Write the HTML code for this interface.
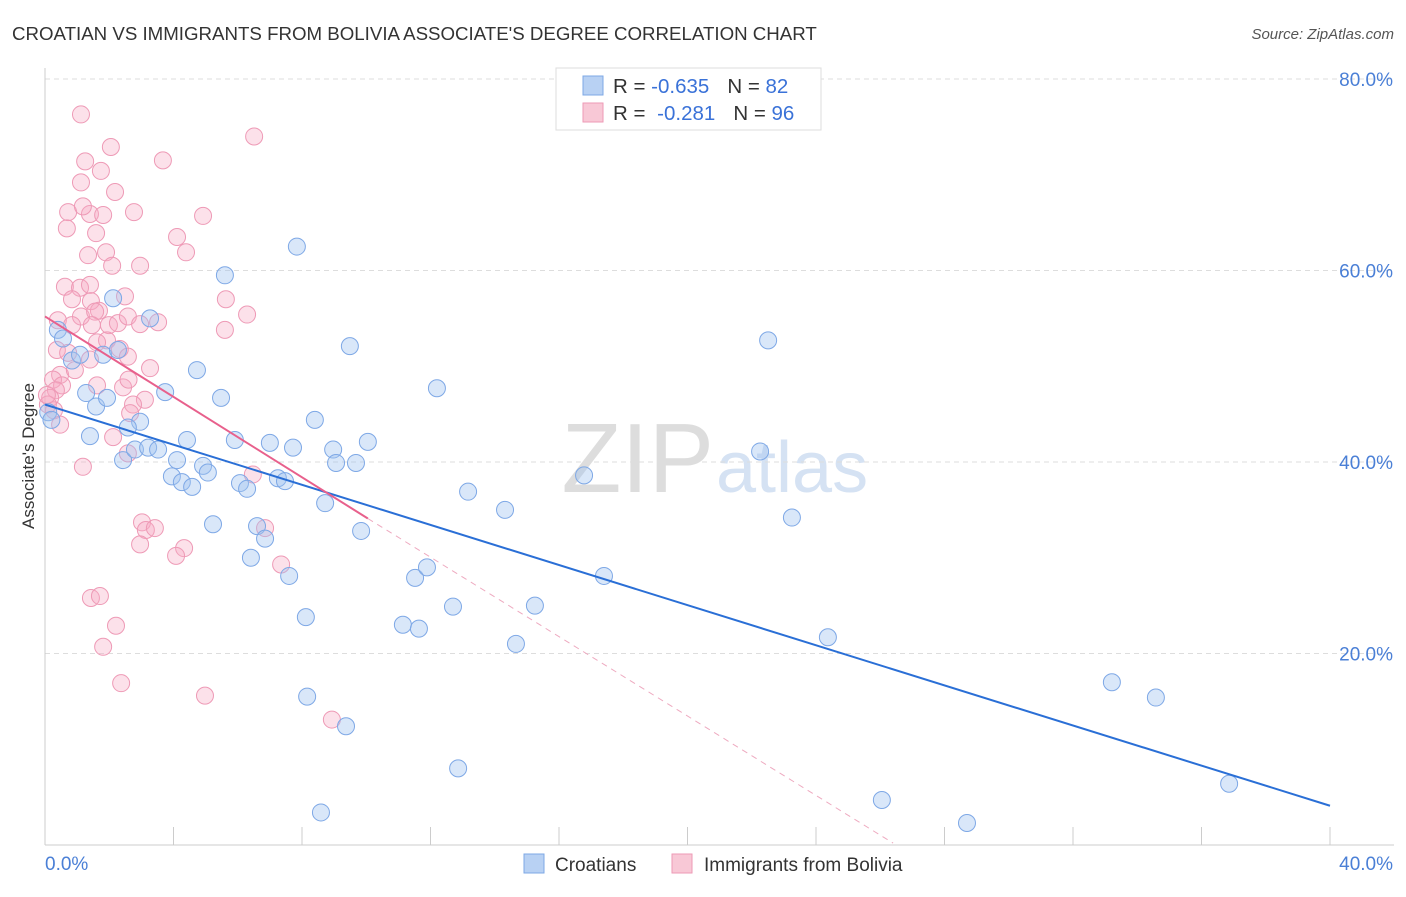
<!DOCTYPE html>
<html><head><meta charset="utf-8"><style>
body{margin:0;background:#fff;font-family:"Liberation Sans",sans-serif;}
svg text{font-family:"Liberation Sans",sans-serif;}
</style></head><body>
<svg id="chart" width="1406" height="892" xmlns="http://www.w3.org/2000/svg">
<text x="12" y="40" font-size="18.7" fill="#333">CROATIAN VS IMMIGRANTS FROM BOLIVIA ASSOCIATE'S DEGREE CORRELATION CHART</text>
<text x="1394" y="39" font-size="15" fill="#555" text-anchor="end" font-style="italic">Source: ZipAtlas.com</text>
<text x="714" y="492" font-size="98" text-anchor="end" fill="#ddd" font-family="Liberation Serif">ZIP</text>
<text x="716" y="492" font-size="72" fill="#d5e2f3">atlas</text>
<g id="grid"></g>
<g id="axes"></g>
<g id="marks"></g>
<g id="trends"></g>
<text transform="translate(34,456) rotate(-90)" font-size="17" fill="#333" text-anchor="middle">Associate's Degree</text>
<g>
<rect x="556" y="68" width="265" height="62" fill="#fff" stroke="#ddd"/>
<rect x="583" y="76" width="20" height="19" fill="#b8d1f3" stroke="#7ea8e6"/>
<text x="613" y="93" font-size="20.5" fill="#333">R = <tspan fill="#3a72d8">-0.635</tspan><tspan dx="18">N = </tspan><tspan fill="#3a72d8">82</tspan></text>
<rect x="583" y="103" width="20" height="19" fill="#f8c8d6" stroke="#ee9ab6"/>
<text x="613" y="120" font-size="20.5" fill="#333">R =  <tspan fill="#3a72d8" dx="6">-0.281</tspan><tspan dx="18">N = </tspan><tspan fill="#3a72d8">96</tspan></text>
</g>
<g>
<rect x="524" y="854" width="20" height="19" fill="#b8d1f3" stroke="#7ea8e6"/>
<text x="555" y="871" font-size="19" fill="#333">Croatians</text>
<rect x="672" y="854" width="20" height="19" fill="#f8c8d6" stroke="#ee9ab6"/>
<text x="704" y="871" font-size="19" fill="#333">Immigrants from Bolivia</text>
</g>
</svg>
<script>
const blueX=[0.4,0.56,0.84,1.09,1.81,2.12,3.27,2.27,1.28,1.59,1.93,2.96,2.58,1.40,2.43,2.80,3.21,3.52,3.74,4.73,3.95,4.11,4.26,4.58,4.42,4.92,5.07,5.23,5.48,5.60,5.91,6.07,6.29,6.60,6.85,6.41,7.00,7.25,7.47,7.72,7.60,7.84,8.12,8.16,8.40,8.72,8.97,9.06,9.49,9.68,9.84,10.05,9.37,8.59,11.52,11.89,11.14,11.64,12.20,12.70,12.86,13.17,14.32,14.66,15.25,16.78,17.40,22.26,22.51,23.25,24.37,26.05,28.70,33.21,34.58,36.86,0.1,0.2];
const blueY=[53.8,52.9,50.6,51.2,51.2,57.1,55.0,51.7,47.2,45.8,46.7,44.2,43.6,42.7,40.2,41.3,41.5,41.3,47.3,49.6,38.5,40.2,37.9,37.4,42.3,39.6,38.9,33.5,46.7,59.5,42.3,37.8,37.2,33.3,32.0,30.0,42.0,38.3,38.0,41.5,28.1,62.5,23.8,15.5,44.4,35.7,41.3,39.9,52.1,39.9,32.8,42.1,12.4,3.4,27.9,29.0,23.0,22.6,47.7,24.9,8.0,36.9,35.0,21.0,25.0,38.6,28.1,41.1,52.7,34.2,21.7,4.7,2.3,17.0,15.4,6.4,45.2,44.4];
const pinkX=[1.12,6.51,2.05,3.67,1.25,1.74,1.12,2.18,4.92,2.77,1.40,1.81,0.72,1.18,0.68,1.59,4.11,4.39,1.90,1.34,2.09,2.96,5.63,6.29,5.60,0.62,1.09,1.40,0.84,1.43,1.68,2.49,1.12,1.56,1.99,0.40,0.84,1.46,2.27,2.58,2.96,3.52,1.93,1.62,0.37,0.72,2.33,2.58,1.40,0.47,0.93,3.27,0.25,0.53,1.62,2.43,3.11,0.34,0.16,0.28,0.47,0.09,0.06,2.74,2.12,2.58,1.18,6.47,3.02,3.14,2.96,4.33,4.08,6.85,7.35,1.43,1.71,2.21,1.81,2.37,4.98,8.93,3.42,2.65,2.6];
const pinkY=[76.3,74.0,72.9,71.5,71.4,70.4,69.2,68.2,65.7,66.1,65.9,65.8,66.1,66.7,64.4,63.9,63.5,61.9,61.9,61.6,60.5,60.5,57.0,55.4,53.8,58.3,58.2,58.5,57.0,56.8,55.8,57.3,55.2,55.7,54.3,54.8,54.3,54.3,54.5,55.2,54.4,54.6,52.7,52.5,51.7,51.4,51.8,51.0,50.7,49.1,49.6,49.8,48.6,48.0,48.0,47.8,46.5,47.5,46.7,45.4,43.9,46.0,47.0,46.0,42.6,40.9,39.5,38.7,33.7,32.9,31.4,31.0,30.2,33.1,29.3,25.8,26.0,22.9,20.7,16.9,15.6,13.1,33.1,45.1,48.6];
const yTicks=[20,40,60,80];
const xTickLabels=["0.0%","40.0%"];
const blueTrend=[0,46.0,40,4.1];
const pinkTrend=[0,55.2,10.05,34.1,26.4,0.2];

const NS="http://www.w3.org/2000/svg";
const X0=45,X1=1330,Y0=845,PY=9.575;
const sx=v=>X0+(v/40)*(X1-X0);
const sy=v=>Y0-v*PY;
function mk(tag,attrs,parent){const e=document.createElementNS(NS,tag);for(const k in attrs)e.setAttribute(k,attrs[k]);document.getElementById(parent).appendChild(e);return e;}

yTicks.forEach(t=>{
  const l=mk('line',{x1:X0,x2:1394,y1:sy(t),y2:sy(t),stroke:'#ddd','stroke-dasharray':'5,4'},'grid');
  
  
  const tx=mk('text',{x:1393,y:sy(t)+7,'font-size':19,fill:'#4a7fd6','text-anchor':'end'},'grid');
  tx.textContent=t.toFixed(1)+'%';
  
  
});
const ax=mk('line',{x1:X0,x2:X0,y1:68,y2:Y0,stroke:'#ccc'},'axes');


const bx=mk('line',{x1:X0,x2:1394,y1:Y0,y2:Y0,stroke:'#ccc'},'axes');


for(let i=0;i<=10;i++){
  const t=mk('line',{x1:sx(i*4),x2:sx(i*4),y1:Y0,y2:Y0-18,stroke:'#ccc'},'axes');
  
  
}
xTickLabels.forEach((s,i)=>{
  const t=mk('text',{x:i?1393:45,y:870,'font-size':19,fill:'#4a7fd6','text-anchor':i?'end':'start'},'axes');
  t.textContent=s;
  
  
});
pinkX.forEach((x,i)=>{
  const c=mk('circle',{cx:sx(x),cy:sy(pinkY[i]),r:8.5,fill:'rgba(245,170,195,0.35)',stroke:'#ee9ab6','stroke-width':1},'marks');
  
  
});
blueX.forEach((x,i)=>{
  const c=mk('circle',{cx:sx(x),cy:sy(blueY[i]),r:8.5,fill:'rgba(160,195,240,0.4)',stroke:'#7ea8e6','stroke-width':1},'marks');
  
  
});
const bt=mk('line',{x1:sx(blueTrend[0]),y1:sy(blueTrend[1]),x2:sx(blueTrend[2]),y2:sy(blueTrend[3]),stroke:'#2a6fd6','stroke-width':2},'trends');


const pt=mk('line',{x1:sx(pinkTrend[0]),y1:sy(pinkTrend[1]),x2:sx(pinkTrend[2]),y2:sy(pinkTrend[3]),stroke:'#e8608c','stroke-width':2},'trends');


const pd=mk('line',{x1:sx(pinkTrend[2]),y1:sy(pinkTrend[3]),x2:sx(pinkTrend[4]),y2:sy(pinkTrend[5]),stroke:'#eeaac0','stroke-width':1,'stroke-dasharray':'6,5'},'trends');


</script>
</body></html>
